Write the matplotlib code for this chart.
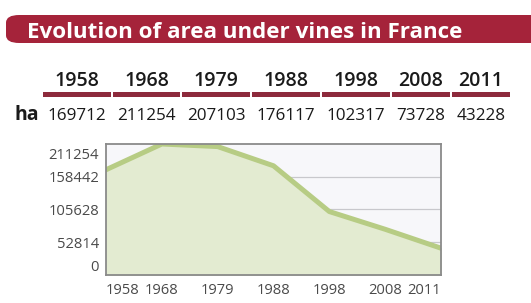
import matplotlib
matplotlib.use("Agg")
import matplotlib.pyplot as plt
from matplotlib.patches import FancyBboxPatch, Rectangle
from matplotlib.transforms import ScaledTranslation

# data
years = ["1958", "1968", "1979", "1988", "1998", "2008", "2011"]
hectares = [169712, 211254, 207103, 176117, 102317, 73728, 43228]
y_ticks = [0, 52814, 105628, 158442, 211254]

TITLE = "Evolution of area under vines in France"
W, H = 531, 303
RED = "#a5233a"
BAR = "#8d2a3c"
FILL = "#e3ebd1"
LINE = "#b7cc84"

plt.rcParams["font.family"] = ["Open Sans", "DejaVu Sans"]

fig = plt.figure(figsize=(W / 100, H / 100), dpi=100)


def fx(px):
    return px / W


def fy(py):
    return 1 - py / H


# title band
band = FancyBboxPatch((fx(6), fy(43)), fx(560), fy(15) - fy(43),
                      boxstyle="round,pad=0,rounding_size=0.025",
                      transform=fig.transFigure, facecolor=RED,
                      edgecolor="none", clip_on=False)
fig.patches.append(band)
t = fig.text(fx(27), fy(37.5), TITLE, color="white", fontweight="bold",
             fontsize=15, va="baseline", ha="left")
fig.canvas.draw()
w = t.get_window_extent().width
t.set_fontsize(15 * 436 / w)

# small table
cols = [(43, 111), (113, 180), (182, 250), (252, 320), (322, 390),
        (392, 450), (452, 510)]
for (x0, x1), yr, val in zip(cols, years, hectares):
    xc = fx((x0 + x1) / 2)
    fig.text(xc, fy(86.5), yr, ha="center", va="baseline",
             fontweight="semibold", fontsize=14, color="#1a1a1a")
    fig.patches.append(Rectangle((fx(x0), fy(96.5)), fx(x1 - x0),
                                 fy(92) - fy(96.5), transform=fig.transFigure,
                                 facecolor=BAR, edgecolor="none"))
    fig.text(xc, fy(119.5), str(val), ha="center", va="baseline",
             fontsize=12.3, color="#1a1a1a")
fig.text(fx(14), fy(119.5), "ha", ha="left", va="baseline",
         fontweight="bold", fontsize=14, color="#1a1a1a")

# area chart
ax = fig.add_axes([fx(106), fy(275), fx(335), fy(144) - fy(275)])
ax.set_facecolor("#f7f7fa")
xs = list(range(len(years)))
ax.fill_between(xs, hectares, 0, color=FILL, zorder=2)
ax.plot(xs, hectares, color=LINE, lw=3.6, solid_joinstyle="round", zorder=3)
ax.set_xlim(0, len(years) - 1)
ax.set_ylim(0, max(hectares))

for v in y_ticks[1:-1]:
    ax.axhline(v, color="#c8c8cc", lw=0.9, zorder=1.5)

ax.set_yticks(y_ticks)
ax.set_yticklabels([str(v) for v in y_ticks])
ax.set_xticks(xs)
ax.set_xticklabels(years)
ax.tick_params(length=0, labelsize=10.6, labelcolor="#4a4a4a")
ax.tick_params(axis="y", pad=5)
ax.tick_params(axis="x", pad=5.5)

ylabs = ax.get_yticklabels()
ylabs[0].set_va("bottom")
ylabs[-1].set_va("top")
ylabs[-1].set_transform(ylabs[-1].get_transform()
                        + ScaledTranslation(0, -4 / 100, fig.dpi_scale_trans))
xlabs = ax.get_xticklabels()
xlabs[0].set_ha("left")
xlabs[-1].set_ha("right")

for s in ax.spines.values():
    s.set_color("#8a8a8a")
    s.set_linewidth(1.3)
    s.set_zorder(4)

fig.savefig("out.png", dpi=100)
